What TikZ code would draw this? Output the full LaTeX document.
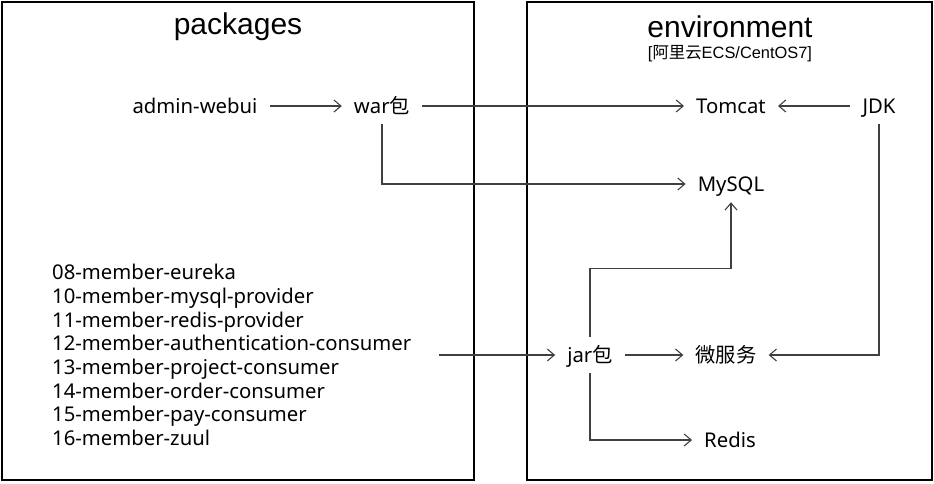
\documentclass[tikz,border=0pt]{standalone}
\usepackage{fontspec}
\setmainfont{Noto Sans}
\newfontfamily\titlefont{Liberation Sans}
\newfontfamily\cjk{Noto Sans CJK SC}
\usetikzlibrary{arrows.meta}
\definecolor{linegray}{RGB}{64,64,64}
\begin{document}
\begin{tikzpicture}[x=1pt,y=-1pt,
  lbl/.style={font=\fontsize{20.3}{24}\selectfont, inner xsep=12pt, inner ysep=7pt, text height=18pt, text depth=4pt},
  titl/.style={font=\titlefont\fontsize{30}{34}\selectfont, inner sep=0pt},
  subt/.style={font=\titlefont\fontsize{16.4}{18}\selectfont, inner sep=0pt},
  modlist/.style={font=\fontsize{20.3}{23.7}\selectfont, align=left, inner xsep=27pt, inner ysep=0pt},
  arr/.style={draw=linegray, line width=1.1pt, -{Straight Barb[length=7pt,width=12pt]}},
  frame/.style={draw=black, line width=2.5pt, inner sep=0pt}]
\useasboundingbox (0,0) rectangle (934,483);
\node[frame, minimum width=472pt, minimum height=478pt] (pkbox) at (238,241) {};
\node[frame, minimum width=405pt, minimum height=478pt] (envbox) at (729.5,241) {};
\node[titl] (pkt) at (238,27) {packages};
\node[titl] (envt) at (730,27) {environment};
\node[subt] (envs) at (730,54) {[{\cjk 阿里云}ECS/CentOS7]};
\node[lbl] (admin) at (195,106) {admin-webui};
\node[lbl] (war) at (382,106) {war{\cjk 包}};
\node[lbl] (tomcat) at (731,106) {Tomcat};
\node[lbl] (jdk) at (879,106) {JDK};
\node[lbl] (mysql) at (731,184) {MySQL};
\node[lbl] (jar) at (590,355) {jar{\cjk 包}};
\node[lbl] (ms) at (726,355) {{\cjk 微服务}};
\node[lbl] (redis) at (730,440) {Redis};
\node[modlist, anchor=west] (mods) at (25,355) {08-member-eureka\\10-member-mysql-provider\\11-member-redis-provider\\12-member-authentication-consumer\\13-member-project-consumer\\14-member-order-consumer\\15-member-pay-consumer\\16-member-zuul};
\path (mysql.south) ++(0,66) coordinate (jm);
\draw[arr] (admin) -- (war);
\draw[arr] (war) -- (tomcat);
\draw[arr] (jdk) -- (tomcat);
\draw[arr] (war.south) |- (mysql.west);
\draw[arr] (jar.north) |- (jm) -- (mysql.south);
\draw[arr] (mods.east) -- (jar);
\draw[arr] (jar) -- (ms);
\draw[arr] (jdk.south) |- (ms.east);
\draw[arr] (jar.south) |- (redis.west);
\end{tikzpicture}
\end{document}
